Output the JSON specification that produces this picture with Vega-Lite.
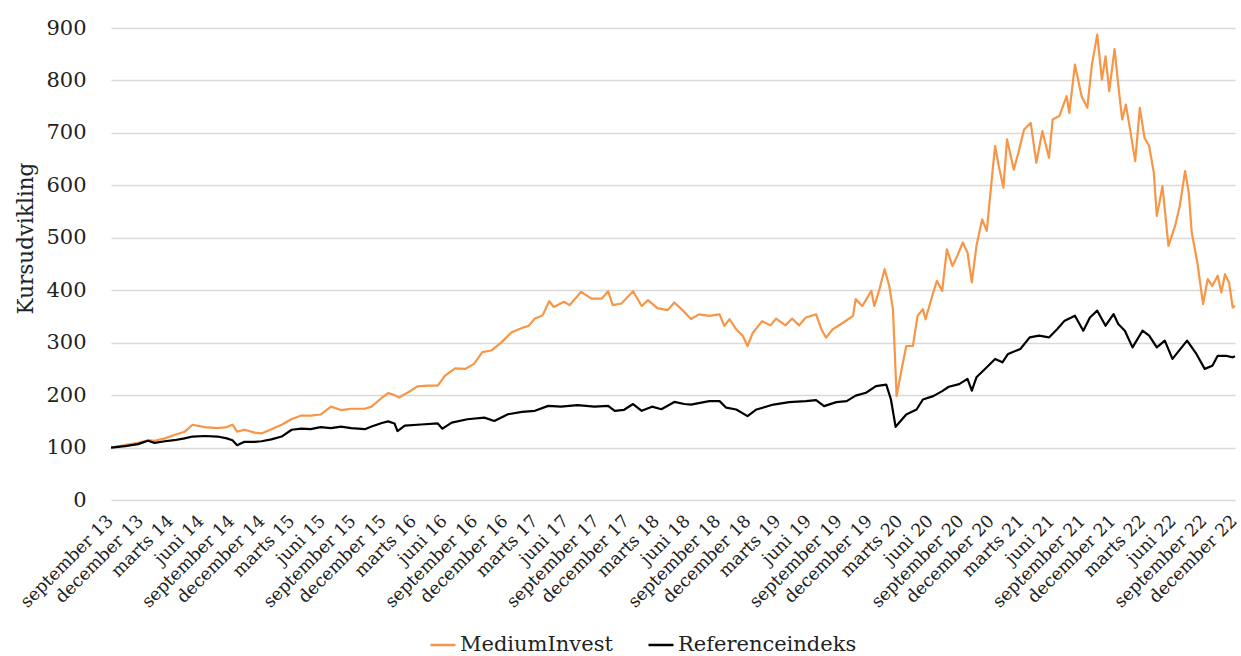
{
  "$schema": "https://vega.github.io/schema/vega-lite/v6.json",
  "width": 1124,
  "height": 472,
  "autosize": {"type": "none"},
  "padding": {"left": 111, "top": 28, "right": 6, "bottom": 156},
  "background": "white",
  "config": {"view": {"stroke": null}, "font": "DejaVu Serif"},
  "datasets": {
    "kurs": [
      {"d":"2013-09-01","s":"MediumInvest","v":100},
      {"d":"2013-10-13","s":"MediumInvest","v":104.5},
      {"d":"2013-11-21","s":"MediumInvest","v":109},
      {"d":"2013-12-21","s":"MediumInvest","v":114},
      {"d":"2014-01-10","s":"MediumInvest","v":113},
      {"d":"2014-02-10","s":"MediumInvest","v":117.5},
      {"d":"2014-03-10","s":"MediumInvest","v":124},
      {"d":"2014-04-10","s":"MediumInvest","v":130},
      {"d":"2014-05-04","s":"MediumInvest","v":143.5},
      {"d":"2014-06-10","s":"MediumInvest","v":139},
      {"d":"2014-07-18","s":"MediumInvest","v":137},
      {"d":"2014-08-15","s":"MediumInvest","v":139},
      {"d":"2014-09-01","s":"MediumInvest","v":143.5},
      {"d":"2014-09-15","s":"MediumInvest","v":130.5},
      {"d":"2014-10-07","s":"MediumInvest","v":134},
      {"d":"2014-11-07","s":"MediumInvest","v":128.5},
      {"d":"2014-11-27","s":"MediumInvest","v":127},
      {"d":"2014-12-27","s":"MediumInvest","v":135},
      {"d":"2015-01-27","s":"MediumInvest","v":143.5},
      {"d":"2015-02-26","s":"MediumInvest","v":154.5},
      {"d":"2015-03-27","s":"MediumInvest","v":161},
      {"d":"2015-04-24","s":"MediumInvest","v":161},
      {"d":"2015-05-24","s":"MediumInvest","v":163},
      {"d":"2015-06-24","s":"MediumInvest","v":178},
      {"d":"2015-07-24","s":"MediumInvest","v":171.5},
      {"d":"2015-08-24","s":"MediumInvest","v":174},
      {"d":"2015-10-04","s":"MediumInvest","v":174},
      {"d":"2015-10-24","s":"MediumInvest","v":178},
      {"d":"2015-11-24","s":"MediumInvest","v":195},
      {"d":"2015-12-13","s":"MediumInvest","v":204},
      {"d":"2016-01-01","s":"MediumInvest","v":200},
      {"d":"2016-01-15","s":"MediumInvest","v":195.5},
      {"d":"2016-02-10","s":"MediumInvest","v":205},
      {"d":"2016-03-10","s":"MediumInvest","v":216.6},
      {"d":"2016-04-10","s":"MediumInvest","v":218},
      {"d":"2016-05-10","s":"MediumInvest","v":218},
      {"d":"2016-06-01","s":"MediumInvest","v":237},
      {"d":"2016-07-01","s":"MediumInvest","v":251},
      {"d":"2016-08-01","s":"MediumInvest","v":250},
      {"d":"2016-08-27","s":"MediumInvest","v":259.5},
      {"d":"2016-09-21","s":"MediumInvest","v":282},
      {"d":"2016-10-18","s":"MediumInvest","v":285},
      {"d":"2016-11-18","s":"MediumInvest","v":301},
      {"d":"2016-12-18","s":"MediumInvest","v":320},
      {"d":"2017-01-18","s":"MediumInvest","v":328},
      {"d":"2017-02-07","s":"MediumInvest","v":332},
      {"d":"2017-02-26","s":"MediumInvest","v":346},
      {"d":"2017-03-21","s":"MediumInvest","v":352},
      {"d":"2017-04-10","s":"MediumInvest","v":379},
      {"d":"2017-04-24","s":"MediumInvest","v":368},
      {"d":"2017-05-24","s":"MediumInvest","v":378},
      {"d":"2017-06-10","s":"MediumInvest","v":371.5},
      {"d":"2017-07-15","s":"MediumInvest","v":397},
      {"d":"2017-08-15","s":"MediumInvest","v":384},
      {"d":"2017-09-15","s":"MediumInvest","v":384},
      {"d":"2017-10-04","s":"MediumInvest","v":398},
      {"d":"2017-10-18","s":"MediumInvest","v":371.5},
      {"d":"2017-11-13","s":"MediumInvest","v":374.7},
      {"d":"2017-12-18","s":"MediumInvest","v":398},
      {"d":"2018-01-13","s":"MediumInvest","v":370},
      {"d":"2018-02-01","s":"MediumInvest","v":381},
      {"d":"2018-03-01","s":"MediumInvest","v":366},
      {"d":"2018-04-01","s":"MediumInvest","v":362},
      {"d":"2018-04-21","s":"MediumInvest","v":376.6},
      {"d":"2018-05-21","s":"MediumInvest","v":358.7},
      {"d":"2018-06-10","s":"MediumInvest","v":345},
      {"d":"2018-07-04","s":"MediumInvest","v":354},
      {"d":"2018-08-04","s":"MediumInvest","v":351},
      {"d":"2018-09-04","s":"MediumInvest","v":354},
      {"d":"2018-09-18","s":"MediumInvest","v":332},
      {"d":"2018-10-04","s":"MediumInvest","v":344.6},
      {"d":"2018-10-24","s":"MediumInvest","v":325.5},
      {"d":"2018-11-13","s":"MediumInvest","v":312.7},
      {"d":"2018-11-27","s":"MediumInvest","v":293.6},
      {"d":"2018-12-13","s":"MediumInvest","v":319},
      {"d":"2019-01-10","s":"MediumInvest","v":341},
      {"d":"2019-02-04","s":"MediumInvest","v":333},
      {"d":"2019-02-21","s":"MediumInvest","v":346},
      {"d":"2019-03-21","s":"MediumInvest","v":333},
      {"d":"2019-04-10","s":"MediumInvest","v":346},
      {"d":"2019-05-01","s":"MediumInvest","v":333},
      {"d":"2019-05-21","s":"MediumInvest","v":348},
      {"d":"2019-06-21","s":"MediumInvest","v":354},
      {"d":"2019-07-07","s":"MediumInvest","v":325.5},
      {"d":"2019-07-21","s":"MediumInvest","v":309.5},
      {"d":"2019-08-10","s":"MediumInvest","v":325.5},
      {"d":"2019-09-10","s":"MediumInvest","v":338},
      {"d":"2019-10-10","s":"MediumInvest","v":351},
      {"d":"2019-10-18","s":"MediumInvest","v":383},
      {"d":"2019-11-07","s":"MediumInvest","v":370},
      {"d":"2019-12-04","s":"MediumInvest","v":398.7},
      {"d":"2019-12-13","s":"MediumInvest","v":370},
      {"d":"2019-12-27","s":"MediumInvest","v":398.7},
      {"d":"2020-01-13","s":"MediumInvest","v":440},
      {"d":"2020-01-27","s":"MediumInvest","v":408},
      {"d":"2020-02-07","s":"MediumInvest","v":363.7},
      {"d":"2020-02-18","s":"MediumInvest","v":198},
      {"d":"2020-03-04","s":"MediumInvest","v":249},
      {"d":"2020-03-18","s":"MediumInvest","v":293.6},
      {"d":"2020-04-07","s":"MediumInvest","v":293.6},
      {"d":"2020-04-21","s":"MediumInvest","v":351},
      {"d":"2020-05-07","s":"MediumInvest","v":363.7},
      {"d":"2020-05-15","s":"MediumInvest","v":344.6},
      {"d":"2020-06-04","s":"MediumInvest","v":389},
      {"d":"2020-06-18","s":"MediumInvest","v":418},
      {"d":"2020-07-04","s":"MediumInvest","v":398.7},
      {"d":"2020-07-18","s":"MediumInvest","v":478},
      {"d":"2020-08-04","s":"MediumInvest","v":446},
      {"d":"2020-08-18","s":"MediumInvest","v":465},
      {"d":"2020-09-04","s":"MediumInvest","v":491},
      {"d":"2020-09-18","s":"MediumInvest","v":472},
      {"d":"2020-10-01","s":"MediumInvest","v":415},
      {"d":"2020-10-15","s":"MediumInvest","v":484.6},
      {"d":"2020-11-01","s":"MediumInvest","v":535},
      {"d":"2020-11-15","s":"MediumInvest","v":513},
      {"d":"2020-12-01","s":"MediumInvest","v":618},
      {"d":"2020-12-10","s":"MediumInvest","v":675},
      {"d":"2020-12-21","s":"MediumInvest","v":636.8},
      {"d":"2021-01-04","s":"MediumInvest","v":595.6},
      {"d":"2021-01-15","s":"MediumInvest","v":687.5},
      {"d":"2021-02-04","s":"MediumInvest","v":630},
      {"d":"2021-02-18","s":"MediumInvest","v":662},
      {"d":"2021-03-07","s":"MediumInvest","v":706.6},
      {"d":"2021-03-27","s":"MediumInvest","v":719},
      {"d":"2021-04-13","s":"MediumInvest","v":643},
      {"d":"2021-05-01","s":"MediumInvest","v":703.4},
      {"d":"2021-05-21","s":"MediumInvest","v":652.6},
      {"d":"2021-06-01","s":"MediumInvest","v":725.6},
      {"d":"2021-06-21","s":"MediumInvest","v":732},
      {"d":"2021-07-13","s":"MediumInvest","v":770},
      {"d":"2021-07-21","s":"MediumInvest","v":738.3},
      {"d":"2021-08-07","s":"MediumInvest","v":830.2},
      {"d":"2021-08-27","s":"MediumInvest","v":770},
      {"d":"2021-09-13","s":"MediumInvest","v":747.8},
      {"d":"2021-09-27","s":"MediumInvest","v":830.2},
      {"d":"2021-10-13","s":"MediumInvest","v":887.3},
      {"d":"2021-10-27","s":"MediumInvest","v":801.7},
      {"d":"2021-11-07","s":"MediumInvest","v":846},
      {"d":"2021-11-18","s":"MediumInvest","v":779.5},
      {"d":"2021-12-04","s":"MediumInvest","v":860},
      {"d":"2021-12-15","s":"MediumInvest","v":792.2},
      {"d":"2021-12-27","s":"MediumInvest","v":725.6},
      {"d":"2022-01-07","s":"MediumInvest","v":754},
      {"d":"2022-01-18","s":"MediumInvest","v":713},
      {"d":"2022-02-04","s":"MediumInvest","v":646.3},
      {"d":"2022-02-18","s":"MediumInvest","v":747.8},
      {"d":"2022-03-04","s":"MediumInvest","v":690.7},
      {"d":"2022-03-18","s":"MediumInvest","v":675},
      {"d":"2022-04-01","s":"MediumInvest","v":624},
      {"d":"2022-04-10","s":"MediumInvest","v":541.7},
      {"d":"2022-04-18","s":"MediumInvest","v":567},
      {"d":"2022-04-27","s":"MediumInvest","v":598.7},
      {"d":"2022-05-15","s":"MediumInvest","v":484.6},
      {"d":"2022-06-04","s":"MediumInvest","v":522.6},
      {"d":"2022-06-18","s":"MediumInvest","v":560.6},
      {"d":"2022-07-04","s":"MediumInvest","v":627.3},
      {"d":"2022-07-15","s":"MediumInvest","v":586},
      {"d":"2022-07-24","s":"MediumInvest","v":510},
      {"d":"2022-08-10","s":"MediumInvest","v":452},
      {"d":"2022-08-27","s":"MediumInvest","v":373.6},
      {"d":"2022-09-10","s":"MediumInvest","v":421},
      {"d":"2022-09-24","s":"MediumInvest","v":408.4},
      {"d":"2022-10-10","s":"MediumInvest","v":427.5},
      {"d":"2022-10-21","s":"MediumInvest","v":395.8},
      {"d":"2022-11-01","s":"MediumInvest","v":430.7},
      {"d":"2022-11-13","s":"MediumInvest","v":414.8},
      {"d":"2022-11-24","s":"MediumInvest","v":367},
      {"d":"2022-12-01","s":"MediumInvest","v":370},

      {"d":"2013-09-01","s":"Referenceindeks","v":100},
      {"d":"2013-10-13","s":"Referenceindeks","v":102.6},
      {"d":"2013-11-21","s":"Referenceindeks","v":106.5},
      {"d":"2013-12-21","s":"Referenceindeks","v":113},
      {"d":"2014-01-10","s":"Referenceindeks","v":109},
      {"d":"2014-02-10","s":"Referenceindeks","v":112},
      {"d":"2014-03-10","s":"Referenceindeks","v":114},
      {"d":"2014-04-10","s":"Referenceindeks","v":117.5},
      {"d":"2014-05-04","s":"Referenceindeks","v":121},
      {"d":"2014-06-10","s":"Referenceindeks","v":122},
      {"d":"2014-07-18","s":"Referenceindeks","v":121},
      {"d":"2014-08-15","s":"Referenceindeks","v":117.5},
      {"d":"2014-09-01","s":"Referenceindeks","v":114},
      {"d":"2014-09-15","s":"Referenceindeks","v":104.5},
      {"d":"2014-10-07","s":"Referenceindeks","v":111},
      {"d":"2014-11-07","s":"Referenceindeks","v":111},
      {"d":"2014-11-27","s":"Referenceindeks","v":112},
      {"d":"2014-12-27","s":"Referenceindeks","v":115.6},
      {"d":"2015-01-27","s":"Referenceindeks","v":121},
      {"d":"2015-02-26","s":"Referenceindeks","v":134},
      {"d":"2015-03-27","s":"Referenceindeks","v":136},
      {"d":"2015-04-24","s":"Referenceindeks","v":135},
      {"d":"2015-05-24","s":"Referenceindeks","v":139},
      {"d":"2015-06-24","s":"Referenceindeks","v":137},
      {"d":"2015-07-24","s":"Referenceindeks","v":140},
      {"d":"2015-08-24","s":"Referenceindeks","v":137},
      {"d":"2015-10-04","s":"Referenceindeks","v":135},
      {"d":"2015-10-24","s":"Referenceindeks","v":140},
      {"d":"2015-11-24","s":"Referenceindeks","v":146.8},
      {"d":"2015-12-13","s":"Referenceindeks","v":150},
      {"d":"2016-01-01","s":"Referenceindeks","v":146},
      {"d":"2016-01-10","s":"Referenceindeks","v":131.5},
      {"d":"2016-02-01","s":"Referenceindeks","v":142},
      {"d":"2016-03-21","s":"Referenceindeks","v":144},
      {"d":"2016-05-10","s":"Referenceindeks","v":146},
      {"d":"2016-05-24","s":"Referenceindeks","v":136},
      {"d":"2016-06-21","s":"Referenceindeks","v":147.5},
      {"d":"2016-08-07","s":"Referenceindeks","v":154},
      {"d":"2016-09-27","s":"Referenceindeks","v":157},
      {"d":"2016-10-27","s":"Referenceindeks","v":150.7},
      {"d":"2016-12-07","s":"Referenceindeks","v":163.5},
      {"d":"2017-01-18","s":"Referenceindeks","v":168},
      {"d":"2017-02-26","s":"Referenceindeks","v":170},
      {"d":"2017-04-07","s":"Referenceindeks","v":179.5},
      {"d":"2017-05-15","s":"Referenceindeks","v":178},
      {"d":"2017-07-04","s":"Referenceindeks","v":181},
      {"d":"2017-08-24","s":"Referenceindeks","v":178},
      {"d":"2017-10-04","s":"Referenceindeks","v":179.5},
      {"d":"2017-10-24","s":"Referenceindeks","v":170},
      {"d":"2017-11-21","s":"Referenceindeks","v":172},
      {"d":"2017-12-18","s":"Referenceindeks","v":183},
      {"d":"2018-01-13","s":"Referenceindeks","v":170},
      {"d":"2018-02-13","s":"Referenceindeks","v":178},
      {"d":"2018-03-13","s":"Referenceindeks","v":173},
      {"d":"2018-04-21","s":"Referenceindeks","v":187},
      {"d":"2018-05-21","s":"Referenceindeks","v":183},
      {"d":"2018-06-10","s":"Referenceindeks","v":182},
      {"d":"2018-08-04","s":"Referenceindeks","v":188.5},
      {"d":"2018-09-04","s":"Referenceindeks","v":188.5},
      {"d":"2018-09-24","s":"Referenceindeks","v":176},
      {"d":"2018-10-24","s":"Referenceindeks","v":172.6},
      {"d":"2018-11-27","s":"Referenceindeks","v":160},
      {"d":"2018-12-24","s":"Referenceindeks","v":172.6},
      {"d":"2019-02-13","s":"Referenceindeks","v":182},
      {"d":"2019-04-01","s":"Referenceindeks","v":186.6},
      {"d":"2019-05-21","s":"Referenceindeks","v":188.5},
      {"d":"2019-06-21","s":"Referenceindeks","v":190.5},
      {"d":"2019-07-15","s":"Referenceindeks","v":179},
      {"d":"2019-08-21","s":"Referenceindeks","v":186.6},
      {"d":"2019-09-21","s":"Referenceindeks","v":188.5},
      {"d":"2019-10-18","s":"Referenceindeks","v":199},
      {"d":"2019-11-18","s":"Referenceindeks","v":204.5},
      {"d":"2019-12-18","s":"Referenceindeks","v":217},
      {"d":"2020-01-18","s":"Referenceindeks","v":220},
      {"d":"2020-02-01","s":"Referenceindeks","v":191.7},
      {"d":"2020-02-15","s":"Referenceindeks","v":139.5},
      {"d":"2020-03-18","s":"Referenceindeks","v":163},
      {"d":"2020-04-18","s":"Referenceindeks","v":172.6},
      {"d":"2020-05-07","s":"Referenceindeks","v":191.7},
      {"d":"2020-06-07","s":"Referenceindeks","v":198},
      {"d":"2020-07-04","s":"Referenceindeks","v":207.6},
      {"d":"2020-07-24","s":"Referenceindeks","v":216},
      {"d":"2020-08-24","s":"Referenceindeks","v":221},
      {"d":"2020-09-18","s":"Referenceindeks","v":231},
      {"d":"2020-10-01","s":"Referenceindeks","v":208.6},
      {"d":"2020-10-15","s":"Referenceindeks","v":234},
      {"d":"2020-11-15","s":"Referenceindeks","v":253},
      {"d":"2020-12-10","s":"Referenceindeks","v":269},
      {"d":"2021-01-01","s":"Referenceindeks","v":262.6},
      {"d":"2021-01-18","s":"Referenceindeks","v":278.5},
      {"d":"2021-02-24","s":"Referenceindeks","v":288},
      {"d":"2021-03-24","s":"Referenceindeks","v":310},
      {"d":"2021-04-21","s":"Referenceindeks","v":313.4},
      {"d":"2021-05-21","s":"Referenceindeks","v":310},
      {"d":"2021-06-15","s":"Referenceindeks","v":326},
      {"d":"2021-07-07","s":"Referenceindeks","v":342},
      {"d":"2021-08-07","s":"Referenceindeks","v":351.4},
      {"d":"2021-09-01","s":"Referenceindeks","v":322.8},
      {"d":"2021-09-21","s":"Referenceindeks","v":348},
      {"d":"2021-10-13","s":"Referenceindeks","v":361},
      {"d":"2021-11-07","s":"Referenceindeks","v":332.3},
      {"d":"2021-12-01","s":"Referenceindeks","v":354.5},
      {"d":"2021-12-15","s":"Referenceindeks","v":335.5},
      {"d":"2022-01-04","s":"Referenceindeks","v":322.8},
      {"d":"2022-01-27","s":"Referenceindeks","v":291},
      {"d":"2022-02-26","s":"Referenceindeks","v":322.8},
      {"d":"2022-03-18","s":"Referenceindeks","v":313.4},
      {"d":"2022-04-10","s":"Referenceindeks","v":291},
      {"d":"2022-05-04","s":"Referenceindeks","v":303.8},
      {"d":"2022-05-27","s":"Referenceindeks","v":269},
      {"d":"2022-07-10","s":"Referenceindeks","v":303.8},
      {"d":"2022-08-07","s":"Referenceindeks","v":278.5},
      {"d":"2022-09-01","s":"Referenceindeks","v":250},
      {"d":"2022-09-24","s":"Referenceindeks","v":256},
      {"d":"2022-10-10","s":"Referenceindeks","v":275},
      {"d":"2022-11-04","s":"Referenceindeks","v":275},
      {"d":"2022-11-24","s":"Referenceindeks","v":272},
      {"d":"2022-12-01","s":"Referenceindeks","v":274}
    ]
  },
  "data": {"name": "kurs"},
  "mark": {"type": "line", "strokeWidth": 2.2, "strokeJoin": "round"},
  "encoding": {
    "x": {
      "field": "d",
      "type": "temporal",
      "scale": {
        "type": "utc",
        "domain": [{"year": 2013, "month": 9, "date": 1, "utc": true}, {"year": 2022, "month": 12, "date": 1, "utc": true}]
      },
      "axis": {
        "title": null,
        "values": [
          {"year":2013,"month":9,"date":1,"utc":true},{"year":2013,"month":12,"date":1,"utc":true},
          {"year":2014,"month":3,"date":1,"utc":true},{"year":2014,"month":6,"date":1,"utc":true},{"year":2014,"month":9,"date":1,"utc":true},{"year":2014,"month":12,"date":1,"utc":true},
          {"year":2015,"month":3,"date":1,"utc":true},{"year":2015,"month":6,"date":1,"utc":true},{"year":2015,"month":9,"date":1,"utc":true},{"year":2015,"month":12,"date":1,"utc":true},
          {"year":2016,"month":3,"date":1,"utc":true},{"year":2016,"month":6,"date":1,"utc":true},{"year":2016,"month":9,"date":1,"utc":true},{"year":2016,"month":12,"date":1,"utc":true},
          {"year":2017,"month":3,"date":1,"utc":true},{"year":2017,"month":6,"date":1,"utc":true},{"year":2017,"month":9,"date":1,"utc":true},{"year":2017,"month":12,"date":1,"utc":true},
          {"year":2018,"month":3,"date":1,"utc":true},{"year":2018,"month":6,"date":1,"utc":true},{"year":2018,"month":9,"date":1,"utc":true},{"year":2018,"month":12,"date":1,"utc":true},
          {"year":2019,"month":3,"date":1,"utc":true},{"year":2019,"month":6,"date":1,"utc":true},{"year":2019,"month":9,"date":1,"utc":true},{"year":2019,"month":12,"date":1,"utc":true},
          {"year":2020,"month":3,"date":1,"utc":true},{"year":2020,"month":6,"date":1,"utc":true},{"year":2020,"month":9,"date":1,"utc":true},{"year":2020,"month":12,"date":1,"utc":true},
          {"year":2021,"month":3,"date":1,"utc":true},{"year":2021,"month":6,"date":1,"utc":true},{"year":2021,"month":9,"date":1,"utc":true},{"year":2021,"month":12,"date":1,"utc":true},
          {"year":2022,"month":3,"date":1,"utc":true},{"year":2022,"month":6,"date":1,"utc":true},{"year":2022,"month":9,"date":1,"utc":true},{"year":2022,"month":12,"date":1,"utc":true}
        ],
        "labelExpr": "(utcmonth(datum.value) == 2 ? 'marts' : utcmonth(datum.value) == 5 ? 'juni' : utcmonth(datum.value) == 8 ? 'september' : 'december') + ' ' + utcFormat(datum.value, '%y')",
        "labelAngle": -45,
        "labelAlign": "right",
        "labelBaseline": "middle",
        "labelPadding": 18,
        "labelOffset": -1,
        "labelFont": "DejaVu Serif",
        "labelFontSize": 17.5,
        "labelColor": "#222222",
        "labelOverlap": false,
        "labelBound": false,
        "labelFlush": false,
        "labelLimit": 400,
        "ticks": false,
        "domain": false,
        "grid": false
      }
    },
    "y": {
      "field": "v",
      "type": "quantitative",
      "scale": {"domain": [0, 900], "nice": false, "zero": true},
      "axis": {
        "title": "Kursudvikling",
        "values": [0, 100, 200, 300, 400, 500, 600, 700, 800, 900],
        "ticks": false,
        "domain": false,
        "grid": true,
        "gridColor": "#D9D9D9",
        "gridWidth": 1.5,
        "labelFont": "DejaVu Serif",
        "labelFontSize": 21,
        "labelColor": "#222222",
        "labelPadding": 25,
        "labelFlush": false,
        "titleFont": "DejaVu Serif",
        "titleFontSize": 21.5,
        "titleFontWeight": "normal",
        "titleColor": "#222222",
        "titleAngle": 270,
        "titleAlign": "center",
        "titleBaseline": "alphabetic",
        "titleX": -79,
        "titleY": 210
      }
    },
    "color": {
      "field": "s",
      "type": "nominal",
      "scale": {"domain": ["MediumInvest", "Referenceindeks"], "range": ["#F79646", "#000000"]},
      "legend": {
        "title": null,
        "orient": "none",
        "legendX": 318,
        "legendY": 603,
        "direction": "horizontal",
        "symbolType": "stroke",
        "symbolSize": 625,
        "symbolStrokeWidth": 2.5,
        "labelFont": "DejaVu Serif",
        "labelFontSize": 21,
        "labelColor": "#222222",
        "labelOffset": 3,
        "labelLimit": 400,
        "columnPadding": 30,
        "padding": 0
      }
    }
  }
}
